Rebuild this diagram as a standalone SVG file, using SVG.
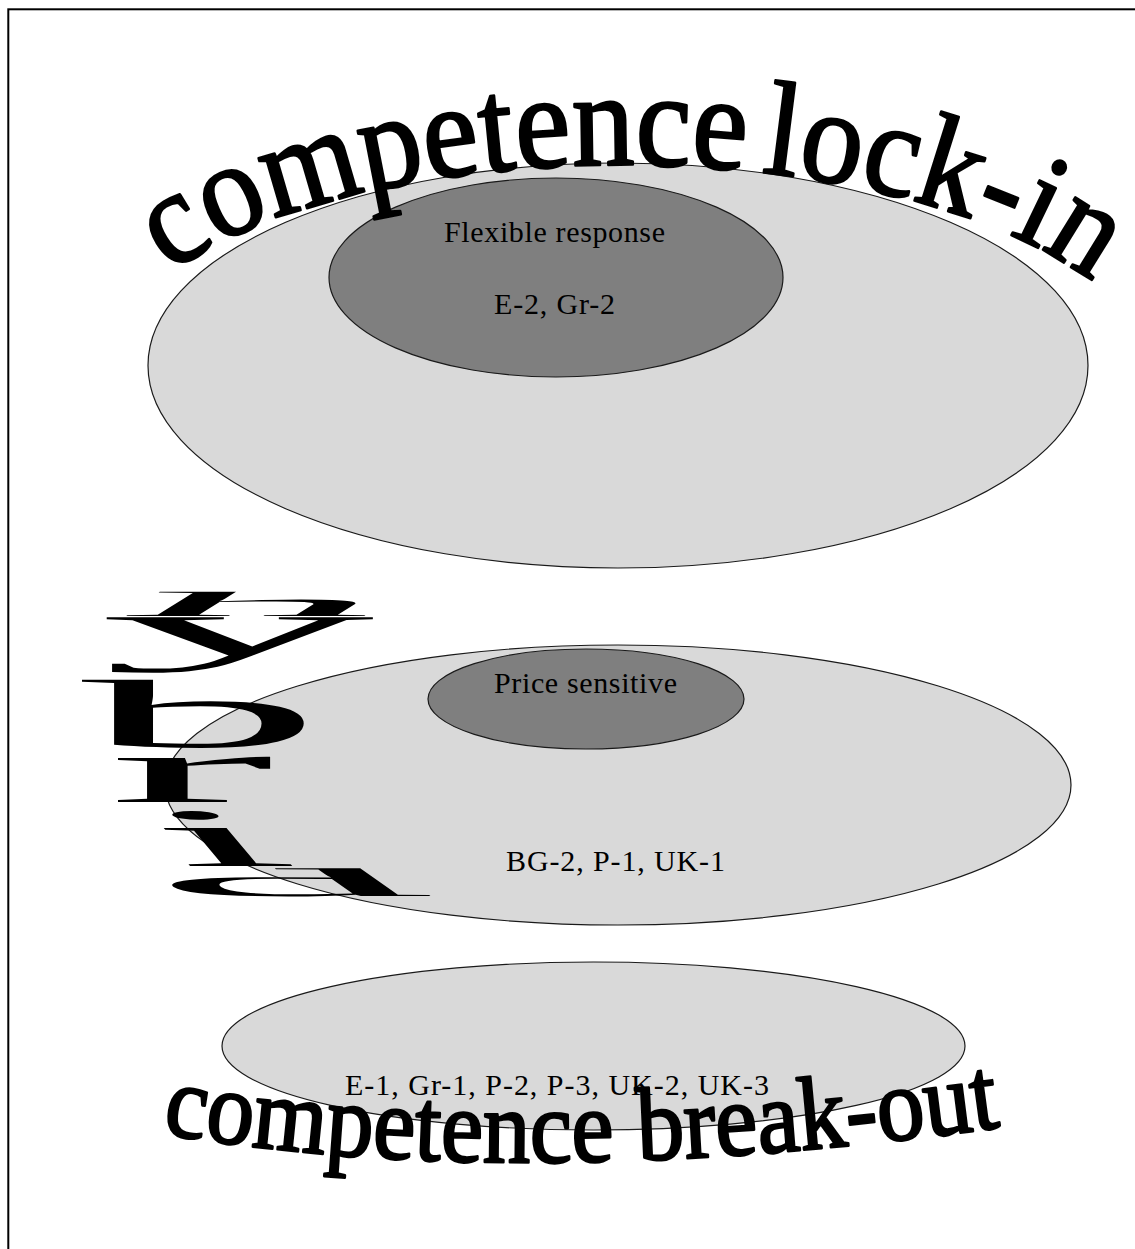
<svg xmlns="http://www.w3.org/2000/svg" width="1135" height="1249" viewBox="0 0 1135 1249">
  <style>
    .light { fill: #d9d9d9; stroke: #1a1a1a; stroke-width: 1.2; }
    .dark { fill: #7f7f7f; stroke: #1a1a1a; stroke-width: 1.2; }
    .label { font-family: "Liberation Serif", "Times New Roman", serif; font-size: 30px; fill: #000; }
    .art { font-family: "Liberation Serif", "Times New Roman", serif; fill: #000; }
    .heavy { stroke: #000; stroke-width: 2.6; stroke-linejoin: round; }
  </style>
  <defs>
    <path id="archTop" d="M 140 300 C 300 130, 900 110, 1115 300"/>
    <path id="archBottom" d="M 160 1133 Q 520 1195 1010 1126"/>
  </defs>

  <rect x="0" y="0" width="1135" height="1249" fill="#fff"/>
  <rect x="8.3" y="9.3" width="1200" height="1300" fill="none" stroke="#000" stroke-width="2"/>

  <!-- upper cluster -->
  <g id="lock-in-zone">
    <ellipse class="light" cx="618" cy="365.5" rx="470" ry="202.5"/>
  </g>
  <g id="flexible-response">
    <ellipse class="dark" cx="556" cy="277.5" rx="227" ry="99.5"/>
    <text class="label" x="444" y="242" textLength="221">Flexible response</text>
    <text class="label" x="494" y="314" textLength="121">E-2, Gr-2</text>
  </g>
  <g id="lock-in-title">
    <text class="art heavy" font-size="134"><textPath href="#archTop" startOffset="40" textLength="964" lengthAdjust="spacingAndGlyphs">competence<tspan dx="-16"> lock-in</tspan></textPath></text>
  </g>

  <!-- middle cluster -->
  <g id="hybrid-zone">
    <ellipse class="light" cx="618" cy="785" rx="453" ry="140"/>
    <text class="label" x="506" y="871" textLength="219">BG-2, P-1, UK-1</text>
  </g>
  <g id="price-sensitive">
    <ellipse class="dark" cx="586" cy="699" rx="158" ry="50"/>
    <text class="label" x="494" y="693" textLength="183">Price sensitive</text>
  </g>
  <g id="hybrid-title" class="art" font-size="100">
    <text transform="translate(116,616) skewX(-58) scale(5.1,0.35)">h</text>
    <text transform="translate(100,655) scale(5.5,0.82)">y</text>
    <text transform="translate(82,747) scale(4.8,0.97)">b</text>
    <text transform="translate(108,802) scale(5.0,0.96)">r</text>
    <text transform="translate(181,866) skewX(40) scale(4.3,0.83)">i</text>
    <text transform="translate(167,896) skewX(55) scale(5.4,0.4)">d</text>
  </g>

  <!-- lower cluster -->
  <g id="break-out-zone">
    <ellipse class="light" cx="593.5" cy="1046" rx="371.5" ry="84"/>
    <text class="label" x="345" y="1095" textLength="424">E-1, Gr-1, P-2, P-3, UK-2, UK-3</text>
  </g>
  <g id="break-out-title">
    <text class="art heavy" font-size="104"><textPath href="#archBottom" startOffset="2" textLength="842" lengthAdjust="spacingAndGlyphs">competence break-out</textPath></text>
  </g>
</svg>
